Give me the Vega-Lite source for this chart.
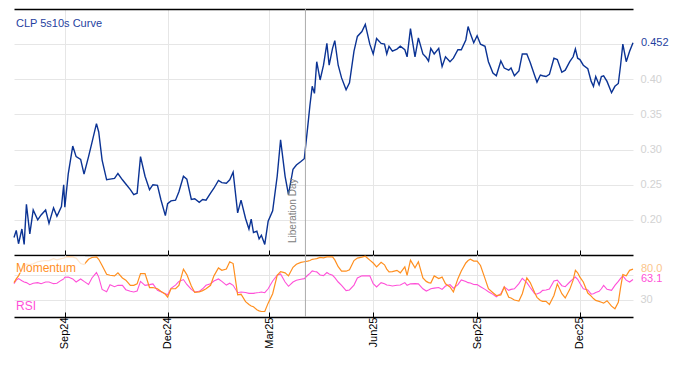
{
  "$schema": "https://vega.github.io/schema/vega-lite/v6.json",
  "padding": {"left": 11, "top": 8, "right": 5, "bottom": 5},
  "background": "white",
  "config": {
    "view": {"stroke": null},
    "font": "Liberation Sans",
    "axis": {"labelFont": "Liberation Sans", "titleFont": "Liberation Sans"}
  },
  "datasets": {
    "d": [
      {"date":"2024-07-18","curve":0.175,"mom":58,"rsi":56.3},
      {"date":"2024-07-20","curve":0.185,"mom":64,"rsi":62},
      {"date":"2024-07-22","curve":0.166,"mom":69,"rsi":64.5},
      {"date":"2024-07-25","curve":0.187,"mom":80,"rsi":61},
      {"date":"2024-07-27","curve":0.165,"mom":84,"rsi":59},
      {"date":"2024-07-29","curve":0.222,"mom":88,"rsi":58},
      {"date":"2024-08-01","curve":0.180,"mom":87.5,"rsi":54.7},
      {"date":"2024-08-04","curve":0.214,"mom":88.6,"rsi":57},
      {"date":"2024-08-08","curve":0.200,"mom":92,"rsi":58},
      {"date":"2024-08-11","curve":0.207,"mom":93,"rsi":56.3},
      {"date":"2024-08-15","curve":0.214,"mom":94,"rsi":59},
      {"date":"2024-08-18","curve":0.195,"mom":94,"rsi":59},
      {"date":"2024-08-22","curve":0.217,"mom":97,"rsi":56.3},
      {"date":"2024-08-25","curve":0.205,"mom":95,"rsi":57},
      {"date":"2024-08-29","curve":0.219,"mom":97,"rsi":62},
      {"date":"2024-08-31","curve":0.250,"mom":98,"rsi":64},
      {"date":"2024-09-01","curve":0.218,"mom":99,"rsi":66.7},
      {"date":"2024-09-04","curve":0.265,"mom":100,"rsi":67},
      {"date":"2024-09-08","curve":0.305,"mom":99.5,"rsi":64},
      {"date":"2024-09-11","curve":0.290,"mom":98,"rsi":59},
      {"date":"2024-09-15","curve":0.286,"mom":89,"rsi":64},
      {"date":"2024-09-18","curve":0.265,"mom":87.5,"rsi":60},
      {"date":"2024-09-22","curve":0.290,"mom":96,"rsi":55},
      {"date":"2024-09-25","curve":0.310,"mom":99,"rsi":65.6},
      {"date":"2024-09-29","curve":0.337,"mom":100,"rsi":74.4},
      {"date":"2024-10-01","curve":0.325,"mom":96,"rsi":67},
      {"date":"2024-10-04","curve":0.285,"mom":86,"rsi":47},
      {"date":"2024-10-08","curve":0.257,"mom":71.6,"rsi":43},
      {"date":"2024-10-11","curve":0.258,"mom":70,"rsi":54.7},
      {"date":"2024-10-15","curve":0.259,"mom":69,"rsi":51.4},
      {"date":"2024-10-18","curve":0.266,"mom":74,"rsi":53.6},
      {"date":"2024-10-22","curve":0.257,"mom":65.6,"rsi":53.6},
      {"date":"2024-10-25","curve":0.251,"mom":62,"rsi":46.5},
      {"date":"2024-10-29","curve":0.243,"mom":53.6,"rsi":43.8},
      {"date":"2024-11-01","curve":0.236,"mom":53.6,"rsi":42.7},
      {"date":"2024-11-04","curve":0.238,"mom":56,"rsi":44.3},
      {"date":"2024-11-07","curve":0.290,"mom":72.7,"rsi":60},
      {"date":"2024-11-11","curve":0.262,"mom":72.7,"rsi":53.6},
      {"date":"2024-11-15","curve":0.243,"mom":50,"rsi":54.7},
      {"date":"2024-11-18","curve":0.250,"mom":50,"rsi":56},
      {"date":"2024-11-22","curve":0.249,"mom":48,"rsi":45.4},
      {"date":"2024-11-25","curve":0.229,"mom":44,"rsi":43.2},
      {"date":"2024-11-29","curve":0.206,"mom":39,"rsi":40},
      {"date":"2024-12-01","curve":0.223,"mom":34.5,"rsi":38.3},
      {"date":"2024-12-04","curve":0.227,"mom":48,"rsi":48.7},
      {"date":"2024-12-08","curve":0.228,"mom":48,"rsi":54},
      {"date":"2024-12-11","curve":0.240,"mom":53.6,"rsi":60},
      {"date":"2024-12-15","curve":0.262,"mom":80,"rsi":63},
      {"date":"2024-12-18","curve":0.258,"mom":71,"rsi":55},
      {"date":"2024-12-22","curve":0.229,"mom":52.5,"rsi":47},
      {"date":"2024-12-25","curve":0.230,"mom":42,"rsi":42.7},
      {"date":"2024-12-29","curve":0.225,"mom":43,"rsi":43.8},
      {"date":"2025-01-01","curve":0.229,"mom":45,"rsi":48},
      {"date":"2025-01-04","curve":0.228,"mom":48,"rsi":53.6},
      {"date":"2025-01-08","curve":0.238,"mom":53.6,"rsi":56.3},
      {"date":"2025-01-11","curve":0.245,"mom":69,"rsi":60.7},
      {"date":"2025-01-15","curve":0.256,"mom":82,"rsi":64},
      {"date":"2025-01-18","curve":0.253,"mom":78,"rsi":60},
      {"date":"2025-01-22","curve":0.252,"mom":80,"rsi":54},
      {"date":"2025-01-25","curve":0.257,"mom":92,"rsi":57},
      {"date":"2025-01-28","curve":0.268,"mom":89,"rsi":53.6},
      {"date":"2025-02-01","curve":0.210,"mom":38,"rsi":41.6},
      {"date":"2025-02-04","curve":0.228,"mom":39,"rsi":42.7},
      {"date":"2025-02-08","curve":0.202,"mom":27,"rsi":42},
      {"date":"2025-02-11","curve":0.187,"mom":22.5,"rsi":40.5},
      {"date":"2025-02-13","curve":0.201,"mom":20,"rsi":40.5},
      {"date":"2025-02-15","curve":0.182,"mom":18.6,"rsi":40.5},
      {"date":"2025-02-18","curve":0.184,"mom":13.7,"rsi":41.6},
      {"date":"2025-02-20","curve":0.173,"mom":12,"rsi":42},
      {"date":"2025-02-22","curve":0.178,"mom":11,"rsi":42.7},
      {"date":"2025-02-25","curve":0.165,"mom":11,"rsi":41.6},
      {"date":"2025-02-28","curve":0.198,"mom":24.6,"rsi":48},
      {"date":"2025-03-04","curve":0.213,"mom":40,"rsi":60.7},
      {"date":"2025-03-08","curve":0.262,"mom":70,"rsi":70},
      {"date":"2025-03-11","curve":0.314,"mom":76,"rsi":72},
      {"date":"2025-03-15","curve":0.262,"mom":74,"rsi":59},
      {"date":"2025-03-18","curve":0.236,"mom":69,"rsi":52},
      {"date":"2025-03-22","curve":0.272,"mom":83,"rsi":59},
      {"date":"2025-03-25","curve":0.278,"mom":88,"rsi":62},
      {"date":"2025-03-29","curve":0.283,"mom":91,"rsi":63.4},
      {"date":"2025-04-01","curve":0.287,"mom":92,"rsi":64.5},
      {"date":"2025-04-04","curve":0.332,"mom":93,"rsi":70},
      {"date":"2025-04-06","curve":0.363,"mom":94,"rsi":73},
      {"date":"2025-04-08","curve":0.390,"mom":96,"rsi":77},
      {"date":"2025-04-10","curve":0.380,"mom":96.5,"rsi":76},
      {"date":"2025-04-12","curve":0.425,"mom":97,"rsi":75.5},
      {"date":"2025-04-15","curve":0.399,"mom":99,"rsi":70.5},
      {"date":"2025-04-18","curve":0.420,"mom":98.4,"rsi":69.5},
      {"date":"2025-04-21","curve":0.451,"mom":100,"rsi":74.4},
      {"date":"2025-04-23","curve":0.420,"mom":100,"rsi":72},
      {"date":"2025-04-26","curve":0.444,"mom":100,"rsi":70},
      {"date":"2025-04-28","curve":0.455,"mom":95,"rsi":66},
      {"date":"2025-05-01","curve":0.420,"mom":84,"rsi":59},
      {"date":"2025-05-04","curve":0.402,"mom":76.6,"rsi":53.6},
      {"date":"2025-05-08","curve":0.385,"mom":76.6,"rsi":45},
      {"date":"2025-05-11","curve":0.395,"mom":79,"rsi":46},
      {"date":"2025-05-15","curve":0.440,"mom":94,"rsi":54},
      {"date":"2025-05-18","curve":0.461,"mom":98,"rsi":65.6},
      {"date":"2025-05-22","curve":0.468,"mom":99.5,"rsi":69},
      {"date":"2025-05-25","curve":0.478,"mom":101,"rsi":69},
      {"date":"2025-05-29","curve":0.450,"mom":94.6,"rsi":69},
      {"date":"2025-06-01","curve":0.436,"mom":90,"rsi":56.3},
      {"date":"2025-06-04","curve":0.458,"mom":83.7,"rsi":51},
      {"date":"2025-06-08","curve":0.451,"mom":91,"rsi":58},
      {"date":"2025-06-11","curve":0.450,"mom":87,"rsi":56.3},
      {"date":"2025-06-13","curve":0.436,"mom":80,"rsi":54},
      {"date":"2025-06-15","curve":0.447,"mom":75.5,"rsi":53.6},
      {"date":"2025-06-18","curve":0.440,"mom":76,"rsi":52.5},
      {"date":"2025-06-22","curve":0.443,"mom":78,"rsi":53.6},
      {"date":"2025-06-25","curve":0.447,"mom":74,"rsi":54},
      {"date":"2025-06-29","curve":0.442,"mom":83.7,"rsi":58},
      {"date":"2025-07-01","curve":0.432,"mom":70,"rsi":53.6},
      {"date":"2025-07-04","curve":0.472,"mom":94.6,"rsi":56},
      {"date":"2025-07-08","curve":0.432,"mom":82,"rsi":56.3},
      {"date":"2025-07-11","curve":0.459,"mom":92,"rsi":56},
      {"date":"2025-07-15","curve":0.436,"mom":65.6,"rsi":48},
      {"date":"2025-07-18","curve":0.431,"mom":60,"rsi":44.3},
      {"date":"2025-07-20","curve":0.426,"mom":58,"rsi":46},
      {"date":"2025-07-22","curve":0.444,"mom":57.4,"rsi":48},
      {"date":"2025-07-25","curve":0.436,"mom":69,"rsi":49},
      {"date":"2025-07-29","curve":0.444,"mom":64.5,"rsi":50},
      {"date":"2025-08-01","curve":0.418,"mom":67,"rsi":47},
      {"date":"2025-08-04","curve":0.432,"mom":56,"rsi":52.5},
      {"date":"2025-08-08","curve":0.425,"mom":51,"rsi":54.7},
      {"date":"2025-08-11","curve":0.430,"mom":42.7,"rsi":49},
      {"date":"2025-08-15","curve":0.442,"mom":64.5,"rsi":54.7},
      {"date":"2025-08-18","curve":0.442,"mom":77,"rsi":62.3},
      {"date":"2025-08-22","curve":0.456,"mom":90,"rsi":60},
      {"date":"2025-08-24","curve":0.475,"mom":94,"rsi":58},
      {"date":"2025-08-26","curve":0.465,"mom":96,"rsi":57.4},
      {"date":"2025-08-29","curve":0.452,"mom":93,"rsi":55},
      {"date":"2025-09-01","curve":0.462,"mom":93,"rsi":54.7},
      {"date":"2025-09-04","curve":0.450,"mom":86,"rsi":51.4},
      {"date":"2025-09-08","curve":0.447,"mom":64.5,"rsi":47},
      {"date":"2025-09-11","curve":0.425,"mom":48,"rsi":43.2},
      {"date":"2025-09-15","curve":0.409,"mom":41.6,"rsi":38.9},
      {"date":"2025-09-18","curve":0.405,"mom":37,"rsi":35},
      {"date":"2025-09-22","curve":0.426,"mom":38,"rsi":40},
      {"date":"2025-09-25","curve":0.416,"mom":51,"rsi":51},
      {"date":"2025-09-29","curve":0.413,"mom":34,"rsi":45.4},
      {"date":"2025-10-01","curve":0.416,"mom":33,"rsi":47},
      {"date":"2025-10-04","curve":0.405,"mom":29.6,"rsi":48},
      {"date":"2025-10-08","curve":0.412,"mom":28,"rsi":56.3},
      {"date":"2025-10-11","curve":0.436,"mom":40,"rsi":65},
      {"date":"2025-10-15","curve":0.436,"mom":65.6,"rsi":58},
      {"date":"2025-10-18","curve":0.424,"mom":58,"rsi":50},
      {"date":"2025-10-22","curve":0.405,"mom":41.6,"rsi":40},
      {"date":"2025-10-24","curve":0.396,"mom":34,"rsi":39.4},
      {"date":"2025-10-27","curve":0.406,"mom":29,"rsi":42},
      {"date":"2025-10-29","curve":0.405,"mom":27.4,"rsi":45.4},
      {"date":"2025-11-01","curve":0.404,"mom":27.4,"rsi":46},
      {"date":"2025-11-04","curve":0.407,"mom":22.5,"rsi":47.6},
      {"date":"2025-11-08","curve":0.430,"mom":37,"rsi":60.7},
      {"date":"2025-11-11","curve":0.428,"mom":56,"rsi":62},
      {"date":"2025-11-15","curve":0.410,"mom":40,"rsi":53},
      {"date":"2025-11-18","curve":0.413,"mom":33,"rsi":51.4},
      {"date":"2025-11-22","curve":0.425,"mom":47,"rsi":59},
      {"date":"2025-11-25","curve":0.432,"mom":62,"rsi":64},
      {"date":"2025-11-27","curve":0.443,"mom":78,"rsi":67},
      {"date":"2025-11-29","curve":0.430,"mom":74,"rsi":63.4},
      {"date":"2025-12-01","curve":0.428,"mom":67,"rsi":57},
      {"date":"2025-12-04","curve":0.420,"mom":59,"rsi":48},
      {"date":"2025-12-08","curve":0.415,"mom":41,"rsi":46},
      {"date":"2025-12-11","curve":0.397,"mom":36,"rsi":39.4},
      {"date":"2025-12-13","curve":0.390,"mom":32,"rsi":40},
      {"date":"2025-12-15","curve":0.404,"mom":29,"rsi":42},
      {"date":"2025-12-18","curve":0.392,"mom":27.4,"rsi":43.8},
      {"date":"2025-12-20","curve":0.404,"mom":26,"rsi":48},
      {"date":"2025-12-22","curve":0.405,"mom":24.6,"rsi":53.6},
      {"date":"2025-12-25","curve":0.397,"mom":28.5,"rsi":47},
      {"date":"2025-12-29","curve":0.381,"mom":19.7,"rsi":45.4},
      {"date":"2026-01-01","curve":0.390,"mom":15.4,"rsi":53.6},
      {"date":"2026-01-04","curve":0.394,"mom":26,"rsi":60},
      {"date":"2026-01-06","curve":0.420,"mom":50,"rsi":65},
      {"date":"2026-01-08","curve":0.450,"mom":71,"rsi":69},
      {"date":"2026-01-11","curve":0.425,"mom":69,"rsi":62},
      {"date":"2026-01-14","curve":0.440,"mom":78,"rsi":59},
      {"date":"2026-01-17","curve":0.452,"mom":80.0,"rsi":63.1}
    ]
  },
  "spacing": 0,
  "bounds": "flush",
  "vconcat": [
    {
      "width": 619,
      "height": 246,
      "layer": [
        {
          "data": {"name": "d"},
          "mark": {"type": "line", "color": "#0b3394", "strokeWidth": 1.4},
          "encoding": {
            "x": {
              "field": "date", "type": "temporal",
              "scale": {"type": "utc", "domain": [{"year": 2024, "month": 7, "date": 18, "utc": true}, {"year": 2026, "month": 1, "date": 17, "utc": true}]},
              "axis": {
                "orient": "bottom", "title": null, "labels": false,
                "values": [{"year": 2024, "month": 9, "date": 1, "utc": true}, {"year": 2024, "month": 12, "date": 1, "utc": true}, {"year": 2025, "month": 3, "date": 1, "utc": true}, {"year": 2025, "month": 6, "date": 1, "utc": true}, {"year": 2025, "month": 9, "date": 1, "utc": true}, {"year": 2025, "month": 12, "date": 1, "utc": true}],
                "grid": true, "gridColor": "#e6e6e6",
                "domainColor": "#000000", "domainWidth": 1.5,
                "tickColor": "#000000", "tickSize": -5, "tickWidth": 1
              }
            },
            "y": {
              "field": "curve", "type": "quantitative",
              "scale": {"domain": [0.15, 0.5], "nice": false, "zero": false},
              "axis": {
                "orient": "right", "title": null,
                "values": [0.2, 0.25, 0.3, 0.35, 0.4, 0.45],
                "labelExpr": "datum.value > 0.42 ? '' : format(datum.value, '.2f')",
                "domain": false, "ticks": false, "labelPadding": 7,
                "labelColor": "#d2d2d2", "labelFontSize": 11,
                "grid": true, "gridColor": "#e6e6e6"
              }
            }
          }
        },
        {
          "data": {"values": [{}]},
          "mark": {"type": "rule", "color": "#ababab", "strokeWidth": 1},
          "encoding": {
            "x": {
              "datum": {"year": 2025, "month": 4, "date": 2, "utc": true}, "type": "temporal",
              "axis": {"orient": "top", "title": null, "labels": false, "ticks": false, "grid": false, "domainColor": "#000000", "domainWidth": 1.5}
            }
          }
        },
        {
          "data": {"values": [{}]},
          "mark": {"type": "text", "angle": 270, "align": "left", "baseline": "bottom", "dx": 12, "dy": -7, "fontSize": 10, "color": "#808080", "font": "Liberation Sans"},
          "encoding": {
            "x": {"datum": {"year": 2025, "month": 4, "date": 2, "utc": true}, "type": "temporal", "axis": null},
            "y": {"datum": 0.15, "type": "quantitative"},
            "text": {"value": "Liberation Day"}
          }
        },
        {
          "data": {"values": [{}]},
          "mark": {"type": "text", "align": "left", "baseline": "middle", "dx": 2, "fontSize": 11, "color": "#1f3fa0", "font": "Liberation Sans"},
          "encoding": {
            "x": {"datum": {"year": 2024, "month": 7, "date": 18, "utc": true}, "type": "temporal", "axis": null},
            "y": {"datum": 0.4786, "type": "quantitative"},
            "text": {"value": "CLP 5s10s Curve"}
          }
        },
        {
          "data": {"values": [{"date": "2026-01-17", "v": 0.452, "t": "0.452"}]},
          "mark": {"type": "text", "align": "left", "baseline": "middle", "dx": 8, "fontSize": 11, "color": "#1f3fa0", "font": "Liberation Sans"},
          "encoding": {
            "x": {"field": "date", "type": "temporal", "axis": null},
            "y": {"field": "v", "type": "quantitative"},
            "text": {"field": "t"}
          }
        }
      ],
      "resolve": {"axis": {"x": "independent"}}
    },
    {
      "width": 619,
      "height": 62,
      "layer": [
        {
          "data": {"name": "d"},
          "mark": {"type": "line", "color": "#ff50d8", "strokeWidth": 1.1},
          "encoding": {
            "x": {
              "field": "date", "type": "temporal",
              "scale": {"type": "utc", "domain": [{"year": 2024, "month": 7, "date": 18, "utc": true}, {"year": 2026, "month": 1, "date": 17, "utc": true}]},
              "axis": {
                "orient": "bottom", "title": null,
                "values": [{"year": 2024, "month": 9, "date": 1, "utc": true}, {"year": 2024, "month": 12, "date": 1, "utc": true}, {"year": 2025, "month": 3, "date": 1, "utc": true}, {"year": 2025, "month": 6, "date": 1, "utc": true}, {"year": 2025, "month": 9, "date": 1, "utc": true}, {"year": 2025, "month": 12, "date": 1, "utc": true}],
                "labelExpr": "utcFormat(datum.value, '%b%y')",
                "labelAngle": -90, "labelPadding": 5, "labelFontSize": 11, "labelColor": "#000000",
                "grid": true, "gridColor": "#e6e6e6",
                "domainColor": "#000000", "domainWidth": 1.5,
                "tickColor": "#000000", "tickSize": -5, "tickWidth": 1
              }
            },
            "y": {
              "field": "rsi", "type": "quantitative",
              "scale": {"domain": [2, 103], "nice": false, "zero": false},
              "axis": {
                "orient": "right", "title": null,
                "values": [30, 70],
                "labelExpr": "datum.value == 30 ? '30' : ''",
                "domain": false, "ticks": false, "labelPadding": 7,
                "labelColor": "#d2d2d2", "labelFontSize": 11,
                "grid": true, "gridColor": "#e6e6e6"
              }
            }
          }
        },
        {
          "data": {"name": "d"},
          "mark": {"type": "line", "color": "#ff8f1f", "strokeWidth": 1.2},
          "encoding": {
            "x": {"field": "date", "type": "temporal"},
            "y": {"field": "mom", "type": "quantitative"}
          }
        },
        {
          "data": {"values": [{}]},
          "mark": {"type": "rect", "fill": "#ffffff", "opacity": 0.78},
          "encoding": {
            "x": {"datum": {"year": 2024, "month": 7, "date": 18, "utc": true}, "type": "temporal"},
            "x2": {"datum": {"year": 2024, "month": 9, "date": 19, "utc": true}},
            "y": {"datum": 74, "type": "quantitative"},
            "y2": {"datum": 100.5}
          }
        },
        {
          "data": {"values": [{}]},
          "mark": {"type": "rule", "color": "#ababab", "strokeWidth": 1},
          "encoding": {
            "x": {"datum": {"year": 2025, "month": 4, "date": 2, "utc": true}, "type": "temporal"}
          }
        },
        {
          "data": {"values": [{"t": "Momentum", "v": 81.5, "c": "m"}, {"t": "RSI", "v": 19.7, "c": "r"}]},
          "mark": {"type": "text", "align": "left", "baseline": "middle", "dx": 2, "fontSize": 12, "font": "Liberation Sans"},
          "encoding": {
            "x": {"datum": {"year": 2024, "month": 7, "date": 18, "utc": true}, "type": "temporal"},
            "y": {"field": "v", "type": "quantitative"},
            "text": {"field": "t"},
            "color": {"field": "c", "type": "nominal", "scale": {"domain": ["m", "r", "e1"], "range": ["#ff8f1f", "#ff50d8", "#fbc58b"]}, "legend": null}
          }
        },
        {
          "data": {"values": [{"date": "2026-01-17", "v": 80.0, "t": "80.0", "c": "e1"}, {"date": "2026-01-17", "v": 63.1, "t": "63.1", "c": "r"}]},
          "mark": {"type": "text", "align": "left", "baseline": "middle", "dx": 8, "fontSize": 11, "font": "Liberation Sans"},
          "encoding": {
            "x": {"field": "date", "type": "temporal"},
            "y": {"field": "v", "type": "quantitative"},
            "text": {"field": "t"},
            "color": {"field": "c", "type": "nominal", "legend": null}
          }
        }
      ]
    }
  ]
}
